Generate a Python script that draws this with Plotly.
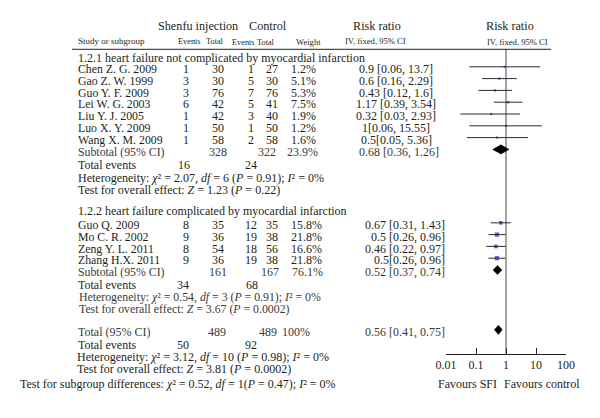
import plotly.graph_objects as go
import math

# ---------------- data ----------------
studies_g1 = ["Chen Z. G. 2009", "Gao Z. W. 1999", "Guo Y. F. 2009", "Lei W. G. 2003",
              "Liu Y. J. 2005", "Luo X. Y. 2009", "Wang X. M. 2009"]
sfi_events_g1 = [1, 3, 3, 6, 1, 1, 1]
sfi_total_g1 = [30, 30, 76, 42, 42, 50, 58]
ctl_events_g1 = [1, 5, 7, 5, 3, 1, 2]
ctl_total_g1 = [27, 30, 76, 41, 40, 50, 58]
weight_g1 = [1.2, 5.1, 5.3, 7.5, 1.9, 1.2, 1.6]
rr_g1 = [0.9, 0.6, 0.43, 1.17, 0.32, 1, 0.5]
lo_g1 = [0.06, 0.16, 0.12, 0.39, 0.03, 0.06, 0.05]
hi_g1 = [13.7, 2.29, 1.6, 3.54, 2.93, 15.55, 5.36]
rrtxt_g1 = ["0.9 [0.06, 13.7]", "0.6 [0.16, 2.29]", "0.43 [0.12, 1.6]", "1.17 [0.39, 3.54]",
            "0.32 [0.03, 2.93]", "1[0.06, 15.55]", "0.5[0.05, 5.36]"]
sub_g1 = dict(sfi_total=328, ctl_total=322, weight="23.9%", rr=0.68, lo=0.36, hi=1.26,
              txt="0.68 [0.36, 1.26]", sfi_events=16, ctl_events=24)

studies_g2 = ["Guo Q. 2009", "Mo C. R. 2002", "Zeng Y. L. 2011", "Zhang H.X. 2011"]
sfi_events_g2 = [8, 9, 8, 9]
sfi_total_g2 = [35, 36, 54, 36]
ctl_events_g2 = [12, 19, 18, 19]
ctl_total_g2 = [35, 38, 56, 38]
weight_g2 = [15.8, 21.8, 16.6, 21.8]
rr_g2 = [0.67, 0.5, 0.46, 0.5]
lo_g2 = [0.31, 0.26, 0.22, 0.26]
hi_g2 = [1.43, 0.96, 0.97, 0.96]
rrtxt_g2 = ["0.67 [0.31, 1.43]", "0.5 [0.26, 0.96]", "0.46 [0.22, 0.97]", "0.5[0.26, 0.96]"]
sub_g2 = dict(sfi_total=161, ctl_total=167, weight="76.1%", rr=0.52, lo=0.37, hi=0.74,
              txt="0.52 [0.37, 0.74]", sfi_events=34, ctl_events=68)

total = dict(sfi_total=489, ctl_total=489, weight="100%", rr=0.56, lo=0.41, hi=0.75,
             txt="0.56 [0.41, 0.75]", sfi_events=50, ctl_events=92)

tick_vals = [0.01, 0.1, 1, 10, 100]
tick_text = ["0.01", "0.1", "1", "10", "100"]

# ---------------- layout constants ----------------
W, H = 600, 418
FONT = "Liberation Serif"
TXT = "#231f20"
SUBC = "#3a3a3a"
BLUE = "#1c1ca0"
X_NAME = 78
X_SE, X_ST, X_CE, X_CT = 186, 218, 251, 272
PLOT_OFF = 2.2
STEP = 11.8

fig = go.Figure()


def txt(x, y, s, size=12, anchor="left", color=TXT):
    fig.add_annotation(x=x / W, y=y, xref="paper", yref="y", text=s, showarrow=False,
                       xanchor=anchor, yanchor="middle", borderpad=0, borderwidth=0,
                       font=dict(family=FONT, size=size, color=color))


def diamond(rr, lo, hi, y):
    fig.add_trace(go.Scatter(x=[lo, rr, hi, rr, lo], y=[y, y - 4.6, y, y + 4.6, y],
                             mode="lines", fill="toself", fillcolor="black",
                             line=dict(color="black", width=0.5), hoverinfo="skip"))


def study_rows(names, se, st, ce, ct, w, rr, lo, hi, rtxt, y0, rr_anchor, rr_x, w_x):
    ys = []
    for i, name in enumerate(names):
        y = y0 + i * STEP
        ys.append(y - PLOT_OFF)
        txt(X_NAME, y, name, 11.8)
        txt(X_SE, y, str(se[i]), 12, "center")
        txt(X_ST, y, str(st[i]), 12, "center")
        txt(X_CE, y, str(ce[i]), 12, "center")
        txt(X_CT, y, str(ct[i]), 12, "center")
        txt(w_x, y, f"{w[i]}%", 12, "center")
        txt(rr_x, y, rtxt[i], 12, rr_anchor)
        fig.add_trace(go.Scatter(x=[lo[i], hi[i]], y=[y - PLOT_OFF, y - PLOT_OFF], mode="lines",
                                 line=dict(color="#2b2b2b", width=1), hoverinfo="skip"))
    sizes = [max(2.2, 0.9 * math.sqrt(v)) for v in w]
    fig.add_trace(go.Scatter(x=rr, y=ys, mode="markers",
                             marker=dict(symbol="square", size=sizes, color=BLUE, line=dict(width=0)),
                             hoverinfo="skip"))
    return y0 + len(names) * STEP


# headers
txt(198, 26, "Shenfu injection", 12.2, "center")
txt(268, 26, "Control", 12.2, "center")
txt(377, 26, "Risk ratio", 12.2, "center")
txt(510, 26, "Risk ratio", 12.2, "center")
txt(X_NAME, 41, "Study or subgroup", 9)
txt(189, 41.5, "Events", 8.3, "center")
txt(215, 41.5, "Total", 8.3, "center")
txt(243, 42, "Events", 8.3, "center")
txt(266, 42, "Total", 8.3, "center")
txt(308, 42, "Weight", 8.6, "center")
txt(375, 41, "IV, fixed, 95% CI", 8.6, "center")
txt(517, 42, "IV, fixed, 95% CI", 8.6, "center")

fig.add_shape(type="line", xref="paper", yref="y", x0=72 / W, x1=551 / W, y0=49.3, y1=49.3,
              line=dict(color="#222", width=1))

# vertical line of no effect
fig.add_trace(go.Scatter(x=[1, 1], y=[49, 354], mode="lines",
                         line=dict(color="#4a4a4a", width=1), hoverinfo="skip"))

# group 1
txt(X_NAME, 58.3, "1.2.1 heart failure not complicated by myocardial infarction", 12)
ysub = study_rows(studies_g1, sfi_events_g1, sfi_total_g1, ctl_events_g1, ctl_total_g1,
                  weight_g1, rr_g1, lo_g1, hi_g1, rrtxt_g1, 69, "center", 396, 303)
txt(X_NAME, ysub, "Subtotal (95% CI)", 11.8, color=SUBC)
txt(X_ST, ysub, str(sub_g1["sfi_total"]), 12, "center", SUBC)
txt(X_CT - 5, ysub, str(sub_g1["ctl_total"]), 12, "center", SUBC)
txt(302, ysub, sub_g1["weight"], 12, "center", SUBC)
txt(399, ysub, sub_g1["txt"], 12, "center", SUBC)
diamond(sub_g1["rr"], sub_g1["lo"], sub_g1["hi"], ysub - PLOT_OFF)
txt(X_NAME, 165, "Total events", 12)
txt(184, 165, str(sub_g1["sfi_events"]), 12, "center")
txt(251, 165, str(sub_g1["ctl_events"]), 12, "center")
txt(X_NAME, 177.5, "Heterogeneity: <i>χ</i>² = 2.07, <i>df</i> = 6 (<i>P</i> = 0.91); <i>I</i>² = 0%", 12)
txt(X_NAME, 190, "Test for overall effect: <i>Z</i> = 1.23 (<i>P</i> = 0.22)", 12)

# group 2
txt(X_NAME, 211, "1.2.2 heart failure complicated by myocardial infarction", 12)
ysub2 = study_rows(studies_g2, sfi_events_g2, sfi_total_g2, ctl_events_g2, ctl_total_g2,
                   weight_g2, rr_g2, lo_g2, hi_g2, rrtxt_g2, 225, "right", 445, 306)
txt(X_NAME, ysub2, "Subtotal (95% CI)", 11.8, color=SUBC)
txt(X_ST, ysub2, str(sub_g2["sfi_total"]), 12, "center", SUBC)
txt(X_CT - 2, ysub2, str(sub_g2["ctl_total"]), 12, "center", SUBC)
txt(307, ysub2, sub_g2["weight"], 12, "center", SUBC)
txt(445, ysub2, sub_g2["txt"], 12, "right", SUBC)
diamond(sub_g2["rr"], sub_g2["lo"], sub_g2["hi"], ysub2 - PLOT_OFF)
txt(X_NAME, 285, "Total events", 12)
txt(183, 285, str(sub_g2["sfi_events"]), 12, "center")
txt(252, 285, str(sub_g2["ctl_events"]), 12, "center")
txt(79, 297, "Heterogeneity: <i>χ</i>² = 0.54, <i>df</i> = 3 (<i>P</i> = 0.91); <i>I</i>² = 0%", 11.8, color=SUBC)
txt(79, 309, "Test for overall effect: <i>Z</i> = 3.67 (<i>P</i> = 0.0002)", 11.8, color=SUBC)

# overall
txt(X_NAME, 332, "Total (95% CI)", 12, color=SUBC)
txt(217, 332, str(total["sfi_total"]), 12, "center", SUBC)
txt(268, 332, str(total["ctl_total"]), 12, "center", SUBC)
txt(296, 332, total["weight"], 12, "center", SUBC)
txt(445, 332, total["txt"], 12, "right", SUBC)
diamond(total["rr"], total["lo"], total["hi"], 332 - PLOT_OFF)
txt(X_NAME, 345, "Total events", 12)
txt(183, 345, str(total["sfi_events"]), 12, "center")
txt(251, 345, str(total["ctl_events"]), 12, "center")
txt(77, 357, "Heterogeneity: <i>χ</i>² = 3.12, <i>df</i> = 10 (<i>P</i> = 0.98); <i>I</i>² = 0%", 12)
txt(77, 368.5, "Test for overall effect: <i>Z</i> = 3.81 (<i>P</i> = 0.0002)", 12)
txt(20, 384, "Test for subgroup differences: <i>χ</i>² = 0.52, <i>df</i> = 1(<i>P</i> = 0.47); <i>I</i>² = 0%", 12)

# axis labels
txt(467, 383.5, "Favours SFI", 12, "center")
txt(542, 383.5, "Favours control", 12, "center")

fig.update_layout(
    template="none",
    width=W, height=H, margin=dict(l=0, r=0, t=0, b=0, pad=0, autoexpand=False),
    paper_bgcolor="white", plot_bgcolor="rgba(0,0,0,0)", showlegend=False,
    xaxis=dict(type="log", range=[-2, 2], domain=[446 / W, 566 / W], anchor="free",
               position=(H - 354) / H, showline=True, linecolor="#222", linewidth=1,
               ticks="inside", ticklen=6, tickcolor="#222", tickwidth=1, automargin=False,
               tickvals=tick_vals, ticktext=tick_text, showgrid=False, zeroline=False,
               tickfont=dict(family=FONT, size=12, color=TXT)),
    yaxis=dict(range=[H, 0], domain=[0, 1], visible=False, showgrid=False, zeroline=False,
               automargin=False),
)

fig.write_html("out.html", config={"displayModeBar": False},
               post_script="document.body.style.margin='0';document.body.style.overflow='hidden';")
